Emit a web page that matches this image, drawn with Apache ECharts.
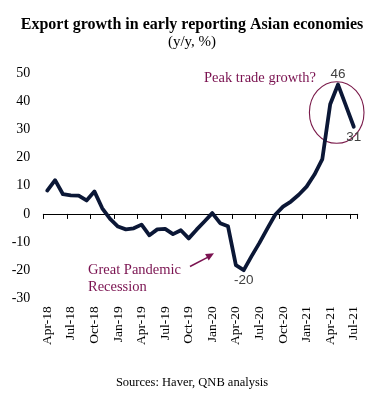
<!DOCTYPE html>
<html>
<head>
<meta charset="utf-8">
<script src="https://cdn.jsdelivr.net/npm/echarts@6/dist/echarts.min.js"></script>
<style>
html,body{margin:0;padding:0;background:#fff;}
#chart{width:392px;height:393px;}
</style>
</head>
<body>
<div id="chart"></div>
<script>
const months = ['Apr-18','May-18','Jun-18','Jul-18','Aug-18','Sep-18','Oct-18','Nov-18','Dec-18',
  'Jan-19','Feb-19','Mar-19','Apr-19','May-19','Jun-19','Jul-19','Aug-19','Sep-19','Oct-19','Nov-19','Dec-19',
  'Jan-20','Feb-20','Mar-20','Apr-20','May-20','Jun-20','Jul-20','Aug-20','Sep-20','Oct-20','Nov-20','Dec-20',
  'Jan-21','Feb-21','Mar-21','Apr-21','May-21','Jun-21','Jul-21'];
const exportGrowth = [8.3, 12, 7, 6.6, 6.5, 4.8, 8, 2, -1.8,
  -4.5, -5.5, -5.1, -3.8, -7.6, -5.5, -5.3, -7.2, -5.8, -8.7, -5.6, -2.7,
  0.3, -3.3, -4.4, -18.2, -20, -15, -10.3, -5.2, -0.3, 2.6, 4.4, 6.8,
  9.7, 14, 19.5, 39, 46, 38.5, 31];
const labelledPoints = [['May-20', 'bottom'], ['May-21', 'top'], ['Jul-21', 'bottom']];
const yTicks = {min: -30, max: 50, step: 10};
const titleText = 'Export growth in early reporting Asian economies';
const subtitleText = '(y/y, %)';
const sourceText = 'Sources: Haver, QNB analysis';
const peakNote = 'Peak trade growth?';
const recessionNote = 'Great Pandemic\nRecession';

const serif = '"Liberation Serif", "Times New Roman", serif';
const sans = '"Liberation Sans", Arial, sans-serif';
const noteColor = '#7A1250';

const labelOffsets = {'May-20': [0, 4], 'May-21': [0, 0], 'Jul-21': [6, 5]};
const seriesData = exportGrowth.map((v, i) => {
  const lp = labelledPoints.find(p => p[0] === months[i]);
  if (!lp) return v;
  return {value: v, label: {show: true, position: lp[1], distance: 3, offset: labelOffsets[months[i]]}};
});

const chart = echarts.init(document.getElementById('chart'), null, {renderer: 'canvas'});
chart.setOption({
  animation: false,
  backgroundColor: '#ffffff',
  title: [
    {text: titleText, left: 187, top: 12, textAlign: 'center',
     textStyle: {fontFamily: serif, fontSize: 16, fontWeight: 'bold', color: '#000'}},
    {text: subtitleText, left: 187, top: 30, textAlign: 'center',
     textStyle: {fontFamily: serif, fontSize: 15, fontWeight: 'normal', color: '#000'}},
    {text: sourceText, left: 187, top: 371, textAlign: 'center',
     textStyle: {fontFamily: serif, fontSize: 12.5, fontWeight: 'normal', color: '#000'}}
  ],
  grid: {left: 43.3, right: 34.3, top: 73.3, bottom: 94.7, containLabel: false},
  xAxis: [
    {type: 'category', data: months, boundaryGap: true, position: 'bottom',
     axisLine: {show: true, onZero: true, lineStyle: {color: '#000', width: 1}},
     axisTick: {show: true, interval: 2, length: 5, inside: false, lineStyle: {color: '#000', width: 1}},
     axisLabel: {show: false}, splitLine: {show: false}},
    {type: 'category', data: months, boundaryGap: true, position: 'bottom',
     axisLine: {show: false, onZero: false}, axisTick: {show: false},
     axisLabel: {show: true, interval: 2, rotate: 90, margin: 8,
       fontFamily: serif, fontSize: 13.5, color: '#000'},
     splitLine: {show: false}}
  ],
  yAxis: {type: 'value', min: yTicks.min, max: yTicks.max, interval: yTicks.step,
    axisLine: {show: false}, axisTick: {show: false}, splitLine: {show: false},
    axisLabel: {margin: 13, fontFamily: serif, fontSize: 14, color: '#000'}},
  series: [{
    type: 'line', xAxisIndex: 0, data: seriesData, symbol: 'circle', symbolSize: 1,
    showSymbol: true, showAllSymbol: true, smooth: false,
    itemStyle: {color: 'rgba(0,0,0,0)'},
    lineStyle: {color: '#0B1736', width: 3.8, join: 'round', cap: 'round'},
    label: {show: false, fontFamily: sans, fontSize: 13.5, color: '#404040',
      formatter: p => Math.round(p.value)},
    labelLayout: {hideOverlap: false},
    z: 3
  }],
  graphic: [
    {type: 'text', left: 204, top: 71, style: {text: peakNote, fontFamily: serif, fontSize: 14.5, fill: noteColor}},
    {type: 'ellipse', shape: {cx: 336.7, cy: 112.5, rx: 27.3, ry: 30.8},
     style: {fill: 'none', stroke: '#7A1A4A', lineWidth: 1.1}, z: 2},
    {type: 'text', left: 88, top: 262, style: {text: recessionNote, fontFamily: serif, fontSize: 14.5, lineHeight: 17, fill: noteColor}},
    {type: 'line', shape: {x1: 190, y1: 266.5, x2: 208, y2: 257.2},
     style: {stroke: noteColor, lineWidth: 1.5}},
    {type: 'polygon', shape: {points: [[214, 253.3], [208.7, 260.6], [205.1, 254.0]]},
     style: {fill: noteColor}}
  ]
});
</script>
</body>
</html>
